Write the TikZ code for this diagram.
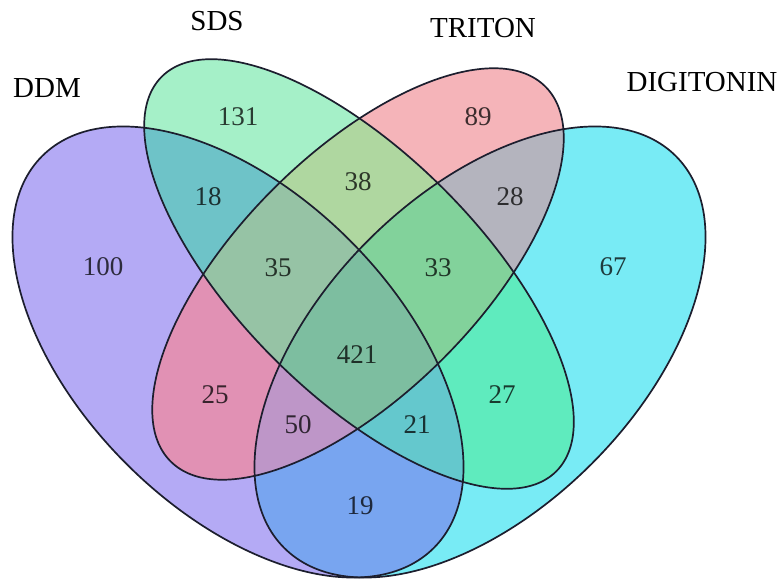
\documentclass[tikz,border=0pt]{standalone}
\usepackage{fontspec}
\setmainfont{Liberation Serif}

% region colours (A = DDM, B = SDS, C = TRITON, D = DIGITONIN)
\definecolor{rA}{HTML}{B4AAF5}
\definecolor{rB}{HTML}{A5F0C8}
\definecolor{rC}{HTML}{F5B4B9}
\definecolor{rD}{HTML}{78EBF5}
\definecolor{rAB}{HTML}{6EC3C8}
\definecolor{rAC}{HTML}{E191B4}
\definecolor{rAD}{HTML}{78A5F0}
\definecolor{rBC}{HTML}{AFD7A0}
\definecolor{rBD}{HTML}{5FEBBE}
\definecolor{rCD}{HTML}{B4B4BE}
\definecolor{rABC}{HTML}{96C3A5}
\definecolor{rABD}{HTML}{64C8CD}
\definecolor{rACD}{HTML}{BE96C8}
\definecolor{rBCD}{HTML}{82D29B}
\definecolor{rABCD}{HTML}{7DBEA0}
\definecolor{outline}{HTML}{1C1E2E}

% the four set outlines
\newcommand\pathA{(238,232) ellipse [x radius=277pt, y radius=158pt]}
\newcommand\pathB{(359,310) ellipse [x radius=279pt, y radius=120pt]}
\newcommand\pathC{(358,310) ellipse [x radius=265pt, y radius=120pt]}
\newcommand\pathD{(480,232) ellipse [x radius=277pt, y radius=158pt]}

\tikzset{
  eA/.style={rotate around={-45:(238,232)}},
  eB/.style={rotate around={-45:(359,310)}},
  eC/.style={rotate around={45:(358,310)}},
  eD/.style={rotate around={45:(480,232)}},
  setline/.style={draw=outline, line width=1.7pt},
  setname/.style={font=\fontsize{29}{32}\selectfont, text=black, inner sep=0pt},
  count/.style={font=\fontsize{27}{30}\selectfont, inner sep=0pt, text=#1!25!black},
}

\begin{document}
\begin{tikzpicture}[x=1pt, y=1pt]
\useasboundingbox (0,0) rectangle (783,584);
\fill[white] (0,0) rectangle (783,584);

% single sets
\fill[rA, eA] \pathA;
\fill[rB, eB] \pathB;
\fill[rC, eC] \pathC;
\fill[rD, eD] \pathD;

% pairs
\begin{scope}\clip[eA] \pathA; \fill[rAB, eB] \pathB;\end{scope}
\begin{scope}\clip[eA] \pathA; \fill[rAC, eC] \pathC;\end{scope}
\begin{scope}\clip[eA] \pathA; \fill[rAD, eD] \pathD;\end{scope}
\begin{scope}\clip[eB] \pathB; \fill[rBC, eC] \pathC;\end{scope}
\begin{scope}\clip[eB] \pathB; \fill[rBD, eD] \pathD;\end{scope}
\begin{scope}\clip[eC] \pathC; \fill[rCD, eD] \pathD;\end{scope}

% triples
\begin{scope}\clip[eA] \pathA; \clip[eB] \pathB; \fill[rABC, eC] \pathC;\end{scope}
\begin{scope}\clip[eA] \pathA; \clip[eB] \pathB; \fill[rABD, eD] \pathD;\end{scope}
\begin{scope}\clip[eA] \pathA; \clip[eC] \pathC; \fill[rACD, eD] \pathD;\end{scope}
\begin{scope}\clip[eB] \pathB; \clip[eC] \pathC; \fill[rBCD, eD] \pathD;\end{scope}

% all four
\begin{scope}\clip[eA] \pathA; \clip[eB] \pathB; \clip[eC] \pathC; \fill[rABCD, eD] \pathD;\end{scope}

% outlines
\draw[setline, eA] \pathA;
\draw[setline, eB] \pathB;
\draw[setline, eC] \pathC;
\draw[setline, eD] \pathD;

% set names
\node[setname] (nA) at (47,496) {DDM};
\node[setname] (nB) at (217,563) {SDS};
\node[setname] (nC) at (483,556) {TRITON};
\node[setname] (nD) at (702,502) {DIGITONIN};

% counts
\node[count=rA]    (cA)    at (103,317) {100};
\node[count=rB]    (cB)    at (238,467) {131};
\node[count=rC]    (cC)    at (478,467) {89};
\node[count=rD]    (cD)    at (613,317) {67};
\node[count=rAB]   (cAB)   at (208,387) {18};
\node[count=rAC]   (cAC)   at (215,189) {25};
\node[count=rAD]   (cAD)   at (360,78)  {19};
\node[count=rBC]   (cBC)   at (358,402) {38};
\node[count=rBD]   (cBD)   at (502,189) {27};
\node[count=rCD]   (cCD)   at (510,387) {28};
\node[count=rABC]  (cABC)  at (278,316) {35};
\node[count=rABD]  (cABD)  at (417,159) {21};
\node[count=rACD]  (cACD)  at (298,159) {50};
\node[count=rBCD]  (cBCD)  at (438,316) {33};
\node[count=rABCD] (cABCD) at (357,229) {421};
\end{tikzpicture}
\end{document}
